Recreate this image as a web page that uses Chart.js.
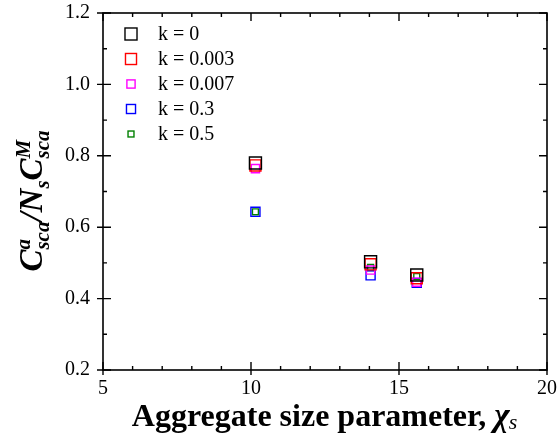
<!DOCTYPE html>
<html>
<head>
<meta charset="utf-8">
<script src="https://cdn.jsdelivr.net/npm/chart.js@4.4.1/dist/chart.umd.min.js"></script>
<style>
  body { margin: 0; background: #fff; }
  #wrap { width: 557px; height: 438px; position: relative; }
</style>
</head>
<body>
<div id="wrap"><canvas id="chart"></canvas></div>
<script>
// data
const seriesLabels = ['k = 0', 'k = 0.003', 'k = 0.007', 'k = 0.3', 'k = 0.5'];
const seriesColors = ['#000000', '#ff0000', '#ff00ff', '#0000ff', '#008000'];
const markerRadius = [8.5, 7.8, 5.8, 6.4, 4.2];
const chiValues = [10.15, 14.04, 15.6];
const k0 = [0.780, 0.503, 0.466];
const k0003 = [0.773, 0.496, 0.457];
const k0007 = [0.764, 0.480, 0.446];
const k03 = [0.643, 0.465, 0.444];
const k05 = [0.643, 0.487, 0.462];
const xTicks = [5, 10, 15, 20];
const yTicks = [0.2, 0.4, 0.6, 0.8, 1.0, 1.2];

const serif = '"Liberation Serif", "Times New Roman", serif';
const allY = [k0, k0003, k0007, k03, k05];

const datasets = allY.map(function (vals, i) {
    return {
        label: seriesLabels[i],
        data: chiValues.map((x, j) => ({ x: x, y: vals[j] })),
        showLine: false,
        pointStyle: 'rect',
        pointRadius: markerRadius[i],
        pointHoverRadius: markerRadius[i],
        borderColor: seriesColors[i],
        backgroundColor: 'rgba(0,0,0,0)',
        pointBorderWidth: 1.4
    };
});

// frame, inward ticks, legend and axis titles
const decorations = {
    id: 'decorations',
    afterDraw(chart) {
        const ctx = chart.ctx;
        const a = chart.chartArea;
        const xs = chart.scales.x, ys = chart.scales.y;
        ctx.save();
        ctx.strokeStyle = '#000';
        ctx.lineWidth = 1.6;
        ctx.strokeRect(a.left, a.top, a.right - a.left, a.bottom - a.top);

        ctx.lineWidth = 1.4;
        ctx.beginPath();
        for (let v = xs.min; v <= xs.max + 1e-9; v += 1) {
            const px = xs.getPixelForValue(v);
            const major = Math.abs(v % 5) < 1e-6;
            const inLen = major ? 8 : 4;
            const outLen = major ? 5 : 0;
            ctx.moveTo(px, a.bottom + outLen); ctx.lineTo(px, a.bottom - inLen);
            ctx.moveTo(px, a.top); ctx.lineTo(px, a.top + inLen);
        }
        for (let i = 0; ; i++) {
            const v = ys.min + i * 0.1;
            if (v > ys.max + 1e-9) break;
            const py = ys.getPixelForValue(v);
            const major = i % 2 === 0;
            const inLen = major ? 8 : 4;
            const outLen = major ? 6 : 0;
            ctx.moveTo(a.left - outLen, py); ctx.lineTo(a.left + inLen, py);
            ctx.moveTo(a.right, py); ctx.lineTo(a.right - inLen, py);
        }
        ctx.stroke();

        // legend inside the plot
        ctx.font = '20px ' + serif;
        ctx.textBaseline = 'middle';
        ctx.fillStyle = '#000';
        chart.data.datasets.forEach(function (ds, i) {
            const cy = 34 + i * 25;
            const s = Math.SQRT1_2 * ds.pointRadius;
            ctx.strokeStyle = ds.borderColor;
            ctx.lineWidth = 1.4;
            ctx.strokeRect(131 - s, cy - s, 2 * s, 2 * s);
            ctx.fillText(ds.label, 158, cy + 1);
        });

        // x title
        const t1 = 'Aggregate size parameter, ';
        const fMain = 'bold 32px ' + serif;
        const fChi = 'italic bold 33px ' + serif;
        const fSub = 'italic 22px ' + serif;
        ctx.font = fMain;
        const w1 = ctx.measureText(t1).width;
        ctx.font = fChi;
        const wc = ctx.measureText('\u03c7').width;
        ctx.font = fSub;
        const ws = ctx.measureText('s').width;
        let x0 = (a.left + a.right) / 2 - (w1 + wc + ws) / 2;
        const by = 426;
        ctx.textBaseline = 'alphabetic';
        ctx.textAlign = 'left';
        ctx.font = fMain;
        ctx.fillText(t1, x0, by);
        x0 += w1;
        ctx.font = fChi;
        ctx.fillText('\u03c7', x0, by);
        x0 += wc;
        ctx.font = fSub;
        ctx.fillText('s', x0 - 1, by + 3);

        // y title, rotated
        ctx.translate(42, 201);
        ctx.rotate(-Math.PI / 2);
        const big = 'italic bold 33px ' + serif;
        const small = 'italic bold 21px ' + serif;
        const runs = [
            { t: 'C', f: big, dy: 0 },
            { t: 'sca', f: small, dy: 7, sup: 'a' },
            { t: '/', f: big, dy: 0 },
            { t: 'N', f: big, dy: 0 },
            { t: 's', f: small, dy: 7 },
            { t: 'C', f: big, dy: 0 },
            { t: 'sca', f: small, dy: 7, sup: 'M' }
        ];
        let total = 0;
        runs.forEach(function (r) {
            ctx.font = r.f;
            r.w = ctx.measureText(r.t).width;
            if (r.sup) { r.sw = ctx.measureText(r.sup).width; r.w = Math.max(r.w, r.sw); }
            total += r.w;
        });
        let cx = -total / 2;
        runs.forEach(function (r) {
            ctx.font = r.f;
            ctx.fillText(r.t, cx, r.dy);
            if (r.sup) ctx.fillText(r.sup, cx, -12);
            cx += r.w;
        });
        ctx.restore();
    }
};

new Chart(document.getElementById('chart'), {
    type: 'scatter',
    data: { datasets: datasets },
    options: {
        responsive: true,
        maintainAspectRatio: false,
        animation: false,
        layout: { padding: { top: 13, right: 10, left: 0, bottom: 0 } },
        plugins: { legend: { display: false }, tooltip: { enabled: false } },
        scales: {
            x: {
                type: 'linear',
                min: xTicks[0],
                max: xTicks[xTicks.length - 1],
                afterBuildTicks: s => { s.ticks = xTicks.map(v => ({ value: v })); },
                afterFit: s => { s.height = 68; s.paddingLeft = 0; s.paddingRight = 0; },
                grid: { display: false, drawTicks: false },
                border: { display: false },
                ticks: {
                    color: '#000',
                    padding: 7,
                    maxRotation: 0,
                    font: { family: serif, size: 20 },
                    callback: v => String(v)
                }
            },
            y: {
                type: 'linear',
                min: yTicks[0],
                max: yTicks[yTicks.length - 1],
                afterBuildTicks: s => { s.ticks = yTicks.map(v => ({ value: v })); },
                afterFit: s => { s.width = 103; s.paddingTop = 0; s.paddingBottom = 0; },
                grid: { display: false, drawTicks: false },
                border: { display: false },
                ticks: {
                    color: '#000',
                    padding: 13,
                    font: { family: serif, size: 20 },
                    callback: v => Number(v).toFixed(1)
                }
            }
        }
    },
    plugins: [decorations]
});
</script>
</body>
</html>
